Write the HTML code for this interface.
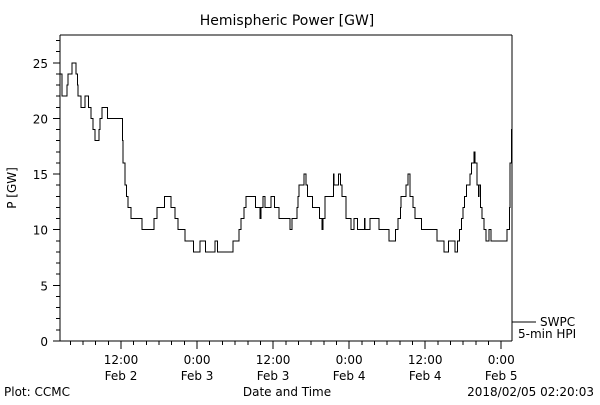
<!DOCTYPE html>
<html><head><meta charset="utf-8"><style>
html,body{margin:0;padding:0;background:#fff}
svg text{font-family:"DejaVu Sans","Liberation Sans",sans-serif;font-size:12px;fill:#000}
</style></head><body>
<svg id="chart" width="600" height="400" xmlns="http://www.w3.org/2000/svg" shape-rendering="crispEdges">
<text x="287" y="25" text-anchor="middle" style="font-size:14px">Hemispheric Power [GW]</text>
<text transform="translate(16,188) rotate(-90)" text-anchor="middle">P [GW]</text>
<text x="287" y="396" text-anchor="middle">Date and Time</text>
<text x="4" y="396">Plot: CCMC</text>
<text x="594" y="396" text-anchor="end">2018/02/05 02:20:03</text>
<line x1="512" y1="322" x2="536" y2="322" stroke="#000"/>
<text x="540" y="326">SWPC</text>
<text x="518" y="338">5-min HPI</text>
<g id="axes"></g>
<path id="series" fill="none" stroke="#000" stroke-width="1"/>
</svg>
<script>
// hours since 2018-02-02 00:00, step values in GW
const hours=[2.37,2.7,3.5,3.6,4.3,4.9,5.1,5.2,5.7,6.3,6.9,7.3,7.6,7.9,8.5,8.7,9.0,9.9,12.2,12.3,12.6,12.9,13.1,13.6,15.3,17.2,17.7,18.9,19.9,20.5,21.0,22.1,23.4,24.5,25.3,26.8,27.2,29.7,30.6,30.9,31.4,31.7,33.2,33.9,34.1,34.4,34.7,35.7,36.2,36.9,38.7,39.0,39.8,39.9,40.1,40.9,41.2,41.4,42.2,43.3,43.7,43.9,44.2,45.5,45.6,46.3,46.6,46.9,47.5,48.3,48.8,49.3,50.4,50.5,51.3,52.7,54.3,55.3,55.7,56.1,56.2,57.0,57.3,57.6,58.1,58.4,59.4,61.9,63.0,63.7,64.7,65.1,65.4,65.7,66.0,66.2,66.5,67.1,67.3,67.7,67.9,68.2,68.4,68.5,68.7,69.0,69.3,69.6,70.1,70.4,72.8,72.9,73.3,73.4,73.6];
const values=[24,22,23,24,25,24,23,22,21,22,21,20,19,18,19,20,21,20,18,16,14,13,12,11,10,11,12,13,12,11,10,9,8,9,8,9,8,9,10,11,12,13,12,11,12,13,12,13,12,11,10,11,12,13,14,15,14,13,12,11,10,11,13,15,14,15,14,13,11,10,11,10,11,10,11,10,9,10,11,12,13,14,15,13,12,11,10,9,8,9,8,9,10,11,12,13,14,15,16,17,16,14,13,14,12,11,10,9,10,9,9,10,12,16,19,21];
const yTicks=[0,5,10,15,20,25];
const xTickHours=[12,24,36,48,60,72];
const xTickLabels=[["12:00","Feb 2"],["0:00","Feb 3"],["12:00","Feb 3"],["0:00","Feb 4"],["12:00","Feb 4"],["0:00","Feb 5"]];
const L=60,R=512,T=35,B=341,H0=2.37,H1=73.7,YMAX=27.5;
const xs=h=>L+(h-H0)/(H1-H0)*(R-L);
const ys=v=>B-v/YMAX*(B-T);
const NS="http://www.w3.org/2000/svg",ax=document.getElementById('axes');
function ln(x1,y1,x2,y2,name){const e=document.createElementNS(NS,'line');e.setAttribute('x1',x1);e.setAttribute('y1',y1);e.setAttribute('x2',x2);e.setAttribute('y2',y2);e.setAttribute('stroke','#000');


ax.appendChild(e);}
function tx(x,y,s,anchor,name){const e=document.createElementNS(NS,'text');e.setAttribute('x',x);e.setAttribute('y',y);e.setAttribute('text-anchor',anchor);e.textContent=s;


ax.appendChild(e);}
ln(L,T,R,T,'plot-frame-top');ln(L,B,R,B,'plot-frame-bottom');ln(L,T,L,B,'y-axis');ln(R,T,R,B,'plot-frame-right');
for(let v=0;v<=27;v++){const y=ys(v);const major=v%5===0;ln(L-(major?7:4),y,L,y,'y-tick');}
yTicks.forEach(v=>tx(L-12,ys(v)+5,String(v),'end','y-tick-label'));
for(let h=4;h<=H1;h+=2){const x=xs(h);const major=h%12===0;ln(x,B,x,B+(major?8:4),'x-tick');}
xTickHours.forEach((h,i)=>{tx(xs(h),364,xTickLabels[i][0],'middle','x-tick-label');tx(xs(h),380,xTickLabels[i][1],'middle','x-tick-date');});
let d='M'+xs(hours[0])+','+ys(values[0]);
for(let i=1;i<hours.length;i++){d+=' H'+xs(hours[i]).toFixed(1)+' V'+ys(values[i]).toFixed(1);}
d+=' H'+xs(H1).toFixed(1);
document.getElementById('series').setAttribute('d',d);
</script>
</body></html>
